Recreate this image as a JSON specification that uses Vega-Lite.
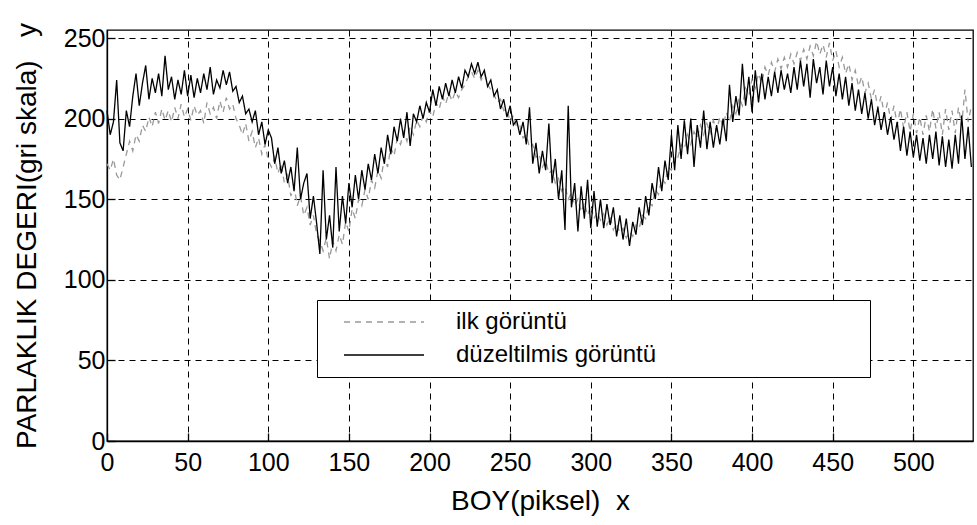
{
"$schema": "https://vega.github.io/schema/vega-lite/v6.json",
"width": 866, "height": 411,
"autosize": {"type": "none"},
"padding": {"left": 107, "top": 30, "right": 4, "bottom": 84},
"background": "white",
"config": {"font": "Liberation Sans", "view": {"stroke": "black", "strokeWidth": 1.3}},
"data": {"values": [
{"x":0,"ilk":172,"duz":205},{"x":2,"ilk":168,"duz":190},{"x":4,"ilk":175,"duz":198},{"x":6,"ilk":165,"duz":224},{"x":8,"ilk":162,"duz":185},
{"x":10,"ilk":170,"duz":180},{"x":12,"ilk":178,"duz":205},{"x":14,"ilk":186,"duz":195},{"x":16,"ilk":180,"duz":214},{"x":18,"ilk":190,"duz":228},
{"x":20,"ilk":186,"duz":208},{"x":22,"ilk":196,"duz":222},{"x":24,"ilk":192,"duz":233},{"x":26,"ilk":201,"duz":212},{"x":28,"ilk":195,"duz":225},
{"x":30,"ilk":204,"duz":216},{"x":32,"ilk":197,"duz":228},{"x":34,"ilk":206,"duz":214},{"x":36,"ilk":199,"duz":239},{"x":38,"ilk":205,"duz":218},
{"x":40,"ilk":198,"duz":226},{"x":42,"ilk":207,"duz":212},{"x":44,"ilk":200,"duz":224},{"x":46,"ilk":209,"duz":215},{"x":48,"ilk":201,"duz":230},
{"x":50,"ilk":206,"duz":214},{"x":52,"ilk":199,"duz":227},{"x":54,"ilk":208,"duz":213},{"x":56,"ilk":202,"duz":225},{"x":58,"ilk":205,"duz":216},
{"x":60,"ilk":197,"duz":228},{"x":62,"ilk":210,"duz":218},{"x":64,"ilk":203,"duz":232},{"x":66,"ilk":207,"duz":215},{"x":68,"ilk":200,"duz":224},
{"x":70,"ilk":211,"duz":219},{"x":72,"ilk":204,"duz":230},{"x":74,"ilk":213,"duz":221},{"x":76,"ilk":206,"duz":229},{"x":78,"ilk":209,"duz":217},
{"x":80,"ilk":200,"duz":220},{"x":82,"ilk":196,"duz":210},{"x":84,"ilk":190,"duz":214},{"x":86,"ilk":197,"duz":203},{"x":88,"ilk":186,"duz":206},
{"x":90,"ilk":192,"duz":198},{"x":92,"ilk":182,"duz":205},{"x":94,"ilk":188,"duz":190},{"x":96,"ilk":178,"duz":198},{"x":98,"ilk":184,"duz":184},
{"x":100,"ilk":174,"duz":193},{"x":102,"ilk":170,"duz":188},{"x":104,"ilk":176,"duz":172},{"x":106,"ilk":166,"duz":182},{"x":108,"ilk":172,"duz":166},
{"x":110,"ilk":160,"duz":174},{"x":112,"ilk":165,"duz":160},{"x":114,"ilk":152,"duz":170},{"x":116,"ilk":158,"duz":155},{"x":118,"ilk":146,"duz":182},
{"x":120,"ilk":152,"duz":150},{"x":122,"ilk":140,"duz":160},{"x":124,"ilk":145,"duz":166},{"x":126,"ilk":134,"duz":138},{"x":128,"ilk":140,"duz":152},
{"x":130,"ilk":128,"duz":135},{"x":132,"ilk":124,"duz":116},{"x":134,"ilk":118,"duz":168},{"x":136,"ilk":126,"duz":125},{"x":138,"ilk":113,"duz":140},
{"x":140,"ilk":124,"duz":120},{"x":142,"ilk":118,"duz":170},{"x":144,"ilk":128,"duz":130},{"x":146,"ilk":122,"duz":152},{"x":148,"ilk":136,"duz":135},
{"x":150,"ilk":130,"duz":160},{"x":152,"ilk":144,"duz":145},{"x":154,"ilk":138,"duz":165},{"x":156,"ilk":150,"duz":150},{"x":158,"ilk":146,"duz":168},
{"x":160,"ilk":156,"duz":156},{"x":162,"ilk":150,"duz":172},{"x":164,"ilk":162,"duz":162},{"x":166,"ilk":157,"duz":178},{"x":168,"ilk":168,"duz":166},
{"x":170,"ilk":163,"duz":182},{"x":172,"ilk":176,"duz":172},{"x":174,"ilk":170,"duz":190},{"x":176,"ilk":182,"duz":178},{"x":178,"ilk":177,"duz":195},
{"x":180,"ilk":188,"duz":186},{"x":182,"ilk":184,"duz":200},{"x":184,"ilk":192,"duz":188},{"x":186,"ilk":186,"duz":204},{"x":188,"ilk":195,"duz":183},
{"x":190,"ilk":190,"duz":203},{"x":192,"ilk":199,"duz":198},{"x":194,"ilk":195,"duz":208},{"x":196,"ilk":202,"duz":200},{"x":198,"ilk":198,"duz":210},
{"x":200,"ilk":205,"duz":204},{"x":202,"ilk":201,"duz":218},{"x":204,"ilk":210,"duz":208},{"x":206,"ilk":206,"duz":220},{"x":208,"ilk":214,"duz":212},
{"x":210,"ilk":209,"duz":222},{"x":212,"ilk":216,"duz":214},{"x":214,"ilk":211,"duz":224},{"x":216,"ilk":217,"duz":216},{"x":218,"ilk":213,"duz":226},
{"x":220,"ilk":218,"duz":219},{"x":222,"ilk":221,"duz":230},{"x":224,"ilk":226,"duz":226},{"x":226,"ilk":229,"duz":234},{"x":228,"ilk":225,"duz":228},
{"x":230,"ilk":230,"duz":235},{"x":232,"ilk":224,"duz":226},{"x":234,"ilk":228,"duz":230},{"x":236,"ilk":221,"duz":220},{"x":238,"ilk":218,"duz":224},
{"x":240,"ilk":215,"duz":214},{"x":242,"ilk":210,"duz":218},{"x":244,"ilk":212,"duz":206},{"x":246,"ilk":205,"duz":212},{"x":248,"ilk":206,"duz":201},
{"x":250,"ilk":198,"duz":208},{"x":252,"ilk":202,"duz":196},{"x":254,"ilk":195,"duz":199},{"x":256,"ilk":196,"duz":190},{"x":258,"ilk":188,"duz":198},
{"x":260,"ilk":190,"duz":184},{"x":262,"ilk":182,"duz":207},{"x":264,"ilk":184,"duz":172},{"x":266,"ilk":176,"duz":185},{"x":268,"ilk":178,"duz":166},
{"x":270,"ilk":170,"duz":180},{"x":272,"ilk":174,"duz":168},{"x":274,"ilk":166,"duz":197},{"x":276,"ilk":168,"duz":160},{"x":278,"ilk":160,"duz":175},
{"x":280,"ilk":163,"duz":150},{"x":282,"ilk":155,"duz":168},{"x":284,"ilk":158,"duz":131},{"x":286,"ilk":150,"duz":208},{"x":288,"ilk":154,"duz":145},
{"x":290,"ilk":146,"duz":160},{"x":292,"ilk":150,"duz":130},{"x":294,"ilk":142,"duz":158},{"x":296,"ilk":148,"duz":138},{"x":298,"ilk":140,"duz":162},
{"x":300,"ilk":146,"duz":132},{"x":302,"ilk":138,"duz":155},{"x":304,"ilk":142,"duz":133},{"x":306,"ilk":137,"duz":150},{"x":308,"ilk":141,"duz":132},
{"x":310,"ilk":134,"duz":147},{"x":312,"ilk":139,"duz":134},{"x":314,"ilk":131,"duz":145},{"x":316,"ilk":135,"duz":127},{"x":318,"ilk":129,"duz":140},
{"x":320,"ilk":132,"duz":125},{"x":322,"ilk":126,"duz":138},{"x":324,"ilk":130,"duz":121},{"x":326,"ilk":127,"duz":136},{"x":328,"ilk":134,"duz":128},
{"x":330,"ilk":132,"duz":145},{"x":332,"ilk":140,"duz":134},{"x":334,"ilk":138,"duz":152},{"x":336,"ilk":148,"duz":140},{"x":338,"ilk":146,"duz":160},
{"x":340,"ilk":156,"duz":150},{"x":342,"ilk":153,"duz":170},{"x":344,"ilk":163,"duz":155},{"x":346,"ilk":160,"duz":174},{"x":348,"ilk":170,"duz":162},
{"x":350,"ilk":168,"duz":190},{"x":352,"ilk":177,"duz":168},{"x":354,"ilk":176,"duz":196},{"x":356,"ilk":184,"duz":175},{"x":358,"ilk":181,"duz":199},
{"x":360,"ilk":190,"duz":178},{"x":362,"ilk":184,"duz":200},{"x":364,"ilk":192,"duz":170},{"x":366,"ilk":188,"duz":196},{"x":368,"ilk":196,"duz":182},
{"x":370,"ilk":190,"duz":205},{"x":372,"ilk":197,"duz":181},{"x":374,"ilk":191,"duz":198},{"x":376,"ilk":199,"duz":182},{"x":378,"ilk":192,"duz":196},
{"x":380,"ilk":201,"duz":184},{"x":382,"ilk":195,"duz":200},{"x":384,"ilk":204,"duz":186},{"x":386,"ilk":198,"duz":221},{"x":388,"ilk":208,"duz":198},
{"x":390,"ilk":203,"duz":214},{"x":392,"ilk":213,"duz":202},{"x":394,"ilk":208,"duz":234},{"x":396,"ilk":219,"duz":208},{"x":398,"ilk":214,"duz":226},
{"x":400,"ilk":225,"duz":204},{"x":402,"ilk":219,"duz":230},{"x":404,"ilk":228,"duz":210},{"x":406,"ilk":222,"duz":228},{"x":408,"ilk":232,"duz":212},
{"x":410,"ilk":227,"duz":226},{"x":412,"ilk":235,"duz":214},{"x":414,"ilk":229,"duz":229},{"x":416,"ilk":237,"duz":216},{"x":418,"ilk":231,"duz":230},
{"x":420,"ilk":238,"duz":218},{"x":422,"ilk":232,"duz":228},{"x":424,"ilk":240,"duz":216},{"x":426,"ilk":234,"duz":232},{"x":428,"ilk":241,"duz":218},
{"x":430,"ilk":236,"duz":236},{"x":432,"ilk":243,"duz":220},{"x":434,"ilk":237,"duz":234},{"x":436,"ilk":245,"duz":213},{"x":438,"ilk":239,"duz":237},
{"x":440,"ilk":248,"duz":222},{"x":442,"ilk":240,"duz":232},{"x":444,"ilk":246,"duz":215},{"x":446,"ilk":238,"duz":236},{"x":448,"ilk":247,"duz":220},
{"x":450,"ilk":236,"duz":232},{"x":452,"ilk":242,"duz":214},{"x":454,"ilk":232,"duz":228},{"x":456,"ilk":238,"duz":212},{"x":458,"ilk":228,"duz":226},
{"x":460,"ilk":234,"duz":208},{"x":462,"ilk":224,"duz":222},{"x":464,"ilk":230,"duz":205},{"x":466,"ilk":220,"duz":218},{"x":468,"ilk":226,"duz":203},
{"x":470,"ilk":216,"duz":216},{"x":472,"ilk":222,"duz":200},{"x":474,"ilk":212,"duz":212},{"x":476,"ilk":218,"duz":196},{"x":478,"ilk":206,"duz":207},
{"x":480,"ilk":214,"duz":193},{"x":482,"ilk":202,"duz":204},{"x":484,"ilk":210,"duz":190},{"x":486,"ilk":199,"duz":201},{"x":488,"ilk":208,"duz":187},
{"x":490,"ilk":196,"duz":198},{"x":492,"ilk":206,"duz":180},{"x":494,"ilk":194,"duz":195},{"x":496,"ilk":204,"duz":177},{"x":498,"ilk":192,"duz":192},
{"x":500,"ilk":203,"duz":176},{"x":502,"ilk":191,"duz":190},{"x":504,"ilk":201,"duz":174},{"x":506,"ilk":190,"duz":188},{"x":508,"ilk":202,"duz":172},
{"x":510,"ilk":192,"duz":190},{"x":512,"ilk":206,"duz":175},{"x":514,"ilk":194,"duz":192},{"x":516,"ilk":204,"duz":171},{"x":518,"ilk":190,"duz":189},
{"x":520,"ilk":206,"duz":170},{"x":522,"ilk":193,"duz":187},{"x":524,"ilk":205,"duz":169},{"x":526,"ilk":191,"duz":190},{"x":528,"ilk":207,"duz":172},
{"x":530,"ilk":196,"duz":202},{"x":532,"ilk":218,"duz":175},{"x":534,"ilk":198,"duz":195},{"x":536,"ilk":208,"duz":170}
]},
"transform": [{"fold": ["ilk", "duz"], "as": ["seri", "deger"]}],
"mark": {"type": "line", "strokeWidth": 1.3},
"encoding": {
  "x": {"field": "x", "type": "quantitative",
    "scale": {"domain": [0, 537], "nice": false, "zero": false},
    "axis": {"title": "BOY(piksel)\u00a0\u00a0x", "values": [0,50,100,150,200,250,300,350,400,450,500],
      "grid": true, "gridColor": "black", "gridDash": [6,5], "gridWidth": 1, "gridOpacity": 1,
      "domainColor": "black", "domainWidth": 1.3, "tickColor": "black", "tickSize": -8, "tickWidth": 1.3,
      "labelFontSize": 25, "labelColor": "black", "labelPadding": 17, "labelFlush": false,
      "titleFontSize": 28, "titleFontWeight": "normal", "titleColor": "black", "titlePadding": 12}},
  "y": {"field": "deger", "type": "quantitative",
    "scale": {"domain": [0, 255], "nice": false},
    "axis": {"title": "PARLAKLIK DEGERI(gri skala)\u00a0\u00a0\u00a0y", "values": [0,50,100,150,200,250],
      "grid": true, "gridColor": "black", "gridDash": [6,5], "gridWidth": 1, "gridOpacity": 1,
      "domainColor": "black", "domainWidth": 1.3, "tickColor": "black", "tickSize": -8, "tickWidth": 1.3,
      "labelFontSize": 25, "labelColor": "black", "labelPadding": 10, "labelFlush": false,
      "titleFontSize": 28, "titleFontWeight": "normal", "titleColor": "black", "titlePadding": 22}},
  "color": {"field": "seri", "type": "nominal",
    "scale": {"domain": ["ilk", "duz"], "range": ["#999999", "#000000"]},
    "legend": {"orient": "none", "legendX": 210, "legendY": 270, "title": " ", "titleOrient": "right", "titlePadding": 204,
      "direction": "vertical", "padding": 10, "strokeColor": "black", "fillColor": "white",
      "labelFontSize": 24, "labelColor": "black", "labelFont": "Liberation Sans", "labelLimit": 500,
      "symbolType": "M-4,0H4", "symbolSize": 400, "symbolOffset": 45, "labelOffset": 60, "symbolStrokeWidth": 1.3,
      "rowPadding": 9,
      "labelExpr": "datum.label == 'ilk' ? 'ilk görüntü' : 'düzeltilmis görüntü'"}},
  "strokeDash": {"field": "seri", "type": "nominal",
    "scale": {"domain": ["ilk", "duz"], "range": [[6,5],[1,0]]}}
}
}
